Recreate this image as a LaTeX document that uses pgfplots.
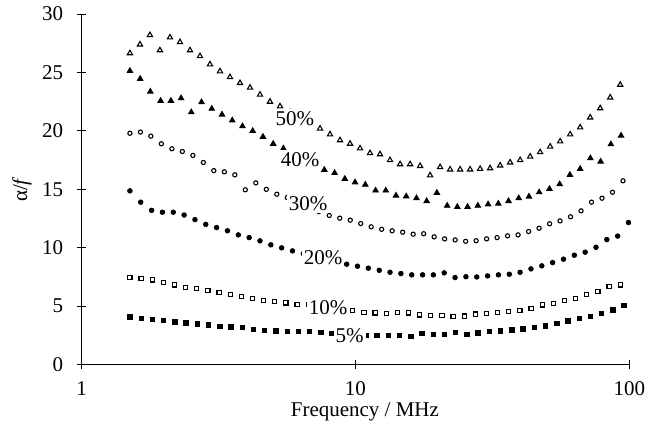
\documentclass[border=0pt]{standalone}
\usepackage{pgfplots}
\pgfplotsset{compat=1.18}
\usepackage{fontspec}
\setmainfont{Liberation Serif}
\begin{document}
\fontsize{10.5}{12.6}\selectfont
\begin{tikzpicture}
\path (-40.85pt,-33.5pt) rectangle (291.15pt,181.5pt);
\begin{axis}[
  scale only axis, width=273.8pt, height=175.25pt,
  xmode=log, xmin=1, xmax=100, ymin=0, ymax=30,
  xtick={1,10,100}, xticklabels={1,10,100},
  ytick={0,5,10,15,20,25,30},
  xminorticks=false,
  axis x line*=bottom, axis y line*=left,
  axis line style={-, line width=0.5pt},
  tick align=center, major tick length=4.4pt,
  tick style={black, line width=0.5pt},
  /pgf/number format/assume math mode=true,
  yticklabel style={xshift=-3.35pt},
  xticklabel style={yshift=-2.5pt},
  xlabel={Frequency / MHz},
  ylabel={α/\textit{f}},
  xlabel style={at={(axis description cs:0.5,0)}, anchor=center, yshift=-23.5pt, xshift=4.7pt},
  ylabel style={at={(axis description cs:-0.109,0.5)}, anchor=center},
  clip=false,
]
% 5% filled squares
\addplot[only marks, mark=square*, mark size=1.1pt, black] coordinates {
(1.500,4.08)(1.649,3.97)(1.812,3.88)(1.992,3.77)(2.189,3.65)(2.406,3.57)(2.644,3.48)(2.906,3.40)(3.194,3.28)(3.511,3.22)
(3.858,3.17)(4.241,3.02)(4.660,2.94)(5.122,2.88)(5.629,2.85)(6.187,2.84)(6.799,2.83)(7.472,2.77)(8.214,2.68)(9.027,2.60)
(9.920,2.55)(10.90,2.50)(11.98,2.48)(13.17,2.48)(14.47,2.48)(15.91,2.42)(17.48,2.68)(19.21,2.60)(21.12,2.60)(23.21,2.74)
(25.51,2.60)(28.03,2.72)(30.81,2.83)(33.87,2.88)(37.22,2.97)(40.91,3.06)(44.96,3.17)(49.41,3.31)(54.31,3.51)(59.69,3.74)
(65.60,3.97)(72.10,4.11)(79.23,4.40)(87.10,4.68)(95.72,5.05)};
% 10% open squares
\addplot[only marks, mark=square, mark size=1.05pt, black, mark options={line width=0.55pt}] coordinates {
(1.500,7.45)(1.648,7.34)(1.809,7.25)(1.987,7.05)(2.183,6.82)(2.397,6.62)(2.633,6.50)(2.891,6.36)(3.175,6.14)(3.487,5.97)
(3.830,5.85)(4.206,5.68)(4.619,5.51)(5.073,5.39)(5.571,5.28)(6.118,5.15)(6.720,5.16)(7.379,4.95)(8.104,4.80)(8.900,4.70)
(9.775,4.60)(10.74,4.48)(11.79,4.42)(12.95,4.37)(14.22,4.48)(15.62,4.42)(17.15,4.25)(18.84,4.20)(20.69,4.20)(22.72,4.14)
(24.96,4.15)(27.41,4.32)(30.10,4.40)(33.06,4.45)(36.31,4.54)(39.87,4.62)(43.79,4.82)(48.08,5.11)(52.81,5.25)(58.00,5.48)
(63.69,5.68)(69.95,5.97)(76.82,6.25)(84.37,6.68)(92.66,6.82)};
% 20% filled circles
\addplot[only marks, mark=*, mark size=1.15pt, black] coordinates {
(1.500,14.87)(1.643,13.90)(1.800,13.20)(1.972,13.04)(2.160,13.04)(2.366,12.80)(2.592,12.41)(2.839,12.00)(3.110,11.73)(3.407,11.45)
(3.733,11.10)(4.089,10.87)(4.478,10.59)(4.906,10.25)(5.375,9.99)(5.888,9.73)(6.450,9.50)(7.066,9.25)(7.740,9.00)(8.479,8.80)
(9.286,8.59)(10.17,8.42)(11.14,8.25)(12.21,8.07)(13.37,7.90)(14.65,7.79)(16.05,7.68)(17.58,7.68)(19.25,7.68)(21.09,7.85)
(23.10,7.45)(25.31,7.52)(27.73,7.50)(30.38,7.59)(33.28,7.68)(36.45,7.73)(39.92,7.90)(43.74,8.19)(47.91,8.45)(52.48,8.73)
(57.50,9.02)(62.99,9.36)(69.00,9.62)(75.59,10.04)(82.78,10.70)(90.68,11.00)(99.33,12.16)};
% 30% open circles
\addplot[only marks, mark=o, mark size=1.05pt, black, mark options={line width=0.55pt}] coordinates {
(1.500,19.80)(1.639,19.90)(1.789,19.55)(1.954,18.90)(2.135,18.47)(2.331,18.24)(2.547,17.90)(2.782,17.30)(3.038,16.60)(3.319,16.50)
(3.625,16.24)(3.959,14.96)(4.324,15.55)(4.724,15.00)(5.159,14.58)(5.636,14.30)(6.155,13.90)(6.723,13.50)(7.343,13.10)(8.020,12.76)
(8.759,12.53)(9.568,12.36)(10.45,12.07)(11.41,11.79)(12.46,11.58)(13.61,11.45)(14.87,11.33)(16.24,11.16)(17.74,11.20)(19.38,10.93)
(21.16,10.76)(23.12,10.67)(25.25,10.55)(27.58,10.60)(30.12,10.76)(32.90,10.87)(35.93,11.02)(39.25,11.10)(42.87,11.39)(46.83,11.67)
(51.15,12.05)(55.86,12.30)(61.02,12.65)(66.65,13.16)(72.78,13.90)(79.51,14.24)(86.85,14.75)(94.84,15.73)};
% 40% filled triangles
\addplot[only marks, mark=triangle*, mark size=1.6pt, black] coordinates {
(1.500,25.14)(1.635,24.46)(1.781,23.37)(1.942,22.58)(2.117,22.58)(2.307,22.80)(2.513,21.60)(2.739,22.46)(2.986,21.90)(3.254,21.40)
(3.547,20.90)(3.866,20.40)(4.213,20.00)(4.592,19.50)(5.005,18.90)(5.455,18.50)(5.945,18.00)(6.479,17.50)(7.062,17.10)(7.696,16.67)
(8.388,16.40)(9.141,15.90)(9.961,15.60)(10.86,15.40)(11.84,14.90)(12.90,14.90)(14.06,14.47)(15.32,14.40)(16.70,14.24)(18.20,14.00)
(19.83,14.70)(21.62,13.60)(23.55,13.50)(25.67,13.50)(27.98,13.60)(30.50,13.72)(33.23,13.78)(36.22,14.00)(39.47,14.24)(43.02,14.38)
(46.88,14.75)(51.10,15.04)(55.69,15.44)(60.69,16.24)(66.15,16.75)(72.10,17.66)(78.58,17.38)(85.64,18.86)(93.33,19.60)};
% 50% open triangles
\addplot[only marks, mark=triangle, mark size=1.5pt, black, mark options={line width=0.55pt}] coordinates {
(1.500,26.65)(1.632,27.40)(1.775,28.20)(1.931,26.90)(2.101,28.00)(2.285,27.60)(2.485,26.90)(2.704,26.40)(2.941,25.70)(3.199,25.10)
(3.480,24.60)(3.786,24.10)(4.118,23.70)(4.479,23.10)(4.872,22.50)(5.300,22.10)(5.766,21.60)(6.272,21.10)(6.823,20.60)(7.421,20.20)
(8.072,19.70)(8.781,19.20)(9.552,18.90)(10.39,18.50)(11.30,18.10)(12.29,18.00)(13.37,17.50)(14.55,17.15)(15.83,17.15)(17.22,17.00)
(18.73,16.20)(20.37,16.90)(22.16,16.70)(24.11,16.70)(26.22,16.70)(28.52,16.75)(31.02,16.80)(33.75,17.04)(36.71,17.30)(39.94,17.50)
(43.44,17.80)(47.25,18.18)(51.40,18.66)(55.91,19.10)(60.82,19.70)(66.16,20.30)(71.97,21.15)(78.29,21.94)(85.18,22.86)(92.66,23.95)};
\coordinate (l50) at (axis cs:6.01,21.06);
\coordinate (l40) at (axis cs:6.28,17.55);
\coordinate (l30) at (axis cs:6.71,13.74);
\coordinate (l20) at (axis cs:7.61,9.16);
\coordinate (l10) at (axis cs:7.94,4.84);
\coordinate (l5) at (axis cs:9.52,2.48);
\end{axis}
\node[fill=white, inner sep=1pt] at (l50) {50\%};
\node[fill=white, inner sep=1pt] at (l40) {40\%};
\node[fill=white, inner sep=1pt] at (l30) {30\%};
\node[fill=white, inner sep=1pt] at (l20) {20\%};
\node[fill=white, inner sep=1pt] at (l10) {10\%};
\node[fill=white, inner sep=1pt] at (l5) {5\%};
\end{tikzpicture}
\end{document}
